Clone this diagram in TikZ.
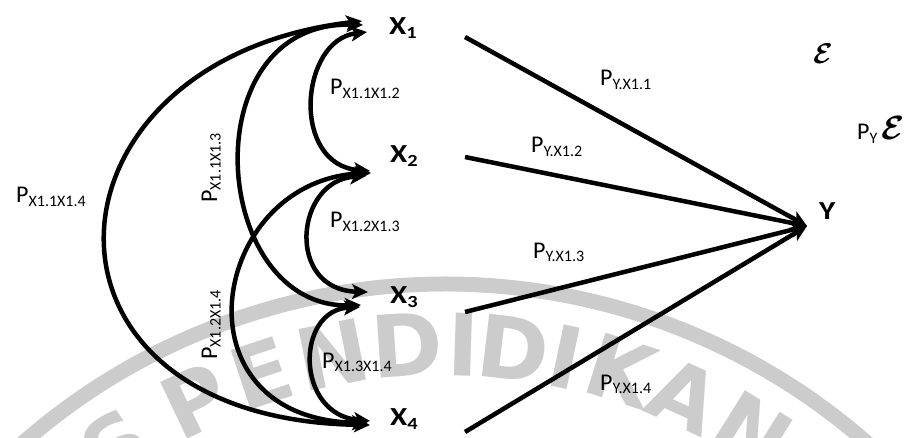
\documentclass[tikz,border=0pt]{standalone}
\usepackage{graphicx}
\usepackage{fontspec}
\setmainfont{Carlito}
\newfontfamily\varfont[FakeStretch=1.2]{Carlito}
\newfontfamily\sealfont{DejaVu Sans}
\usetikzlibrary{arrows.meta}

% lowered index text used in the path coefficients
\newcommand{\psub}[1]{\raisebox{-3.5pt}{\fontsize{16}{16}\selectfont #1}}
\newcommand{\vsub}[1]{\raisebox{-4pt}{\fontsize{17}{17}\selectfont #1}}
\newcommand{\errsym}[1]{\scalebox{#1}{\boldmath$\mathcal{E}$}}

\begin{document}
\begin{tikzpicture}[x=1pt,y=-1pt,
  corr/.style={line width=4.5pt,{Stealth[length=16pt,width=15pt,inset=4pt]}-{Stealth[length=16pt,width=15pt,inset=4pt]}},
  effect/.style={line width=4.5pt,-{Stealth[length=16pt,width=15pt,inset=4pt]}},
  coef/.style={inner sep=0pt,anchor=base west,font=\fontsize{24}{24}\selectfont},
  var/.style={inner sep=0pt,anchor=base west,font=\varfont\bfseries\fontsize{26}{26}\selectfont},
  wmark/.style={inner sep=0pt,text=black!20,font=\sealfont\bfseries\fontsize{86}{86}\selectfont}]
\useasboundingbox (0,0) rectangle (909,438);

% faint seal in the background
\begin{scope}
  \clip (0,0) rectangle (909,438);
  \coordinate (wc) at (445,924);
  \draw[black!20,line width=15pt] ([shift={(222:640)}]wc) arc[start angle=222,end angle=318,radius=640];
  \foreach \l/\a in {S/-34.5,P/-25.5,E/-18.4,N/-11.2,D/-3.8,I/1.8,D/6.8,I/12,K/17.6,A/24.4,N/32}
    \node[wmark,rotate=-\a] at ([shift={(270+\a:580)}]wc) {\l};
\end{scope}

% variables
\node[var] (x1) at (389,35) {X\vsub{1}};
\node[var] (x2) at (390,163) {X\vsub{2}};
\node[var] (x3) at (390,303) {X\vsub{3}};
\node[var] (x4) at (390,425) {X\vsub{4}};
\node[var] (y) at (819,220) {Y};

% arrow ends beside the variables
\coordinate (x1f) at (362,21);
\coordinate (x1d) at (363,25);
\coordinate (x1a) at (367,32);
\coordinate (x2a) at (370,171);
\coordinate (x2e) at (371,173);
\coordinate (x2b) at (366,176);
\coordinate (x3b) at (368,292);
\coordinate (x3d) at (361,305);
\coordinate (x3c) at (360,307);
\coordinate (x4c) at (370,421);
\coordinate (x4e) at (368,423);
\coordinate (x4f) at (370,425);
\coordinate (yt) at (807,226);
\coordinate (s1) at (465,37);
\coordinate (s2) at (465,157);
\coordinate (s3) at (465,312);
\coordinate (s4) at (465,432);

% correlations between the X variables
\draw[corr] (x1f) .. controls (30,60) and (10,420) .. (x4f);
\draw[corr] (x1d) .. controls (190,20) and (210,310) .. (x3d);
\draw[corr] (x2e) .. controls (210,180) and (170,420) .. (x4e);
\draw[corr] (x1a) .. controls (300,40) and (290,165) .. (x2a);
\draw[corr] (x2b) .. controls (295,180) and (285,290) .. (x3b);
\draw[corr] (x3c) .. controls (295,310) and (295,415) .. (x4c);

% direct effects on Y
\draw[effect] (s1) -- (yt);
\draw[effect] (s2) -- (yt);
\draw[effect] (s3) -- (yt);
\draw[effect] (s4) -- (yt);

% coefficients
\node[coef] (p14) at (16,203) {P\psub{X1.1X1.4}};
\node[coef,rotate=90] (p13) at (217,203) {P\psub{X1.1X1.3}};
\node[coef] (p12) at (330,95) {P\psub{X1.1X1.2}};
\node[coef] (p23) at (330,228) {P\psub{X1.2X1.3}};
\node[coef,rotate=90] (p24) at (217,360) {P\psub{X1.2X1.4}};
\node[coef] (p34) at (322,368) {P\psub{X1.3X1.4}};
\node[coef] (py1) at (600,86) {P\psub{Y.X1.1}};
\node[coef] (py2) at (531,153) {P\psub{Y.X1.2}};
\node[coef] (py3) at (533,258) {P\psub{Y.X1.3}};
\node[coef] (py4) at (600,390) {P\psub{Y.X1.4}};

% residual
\node[inner sep=0pt,font=\fontsize{24}{24}\selectfont] (eps) at (823,54) {\errsym{1.15}};
\node[coef] (pye) at (857,140) {P\psub{Y}\,\errsym{1.35}};
\end{tikzpicture}
\end{document}
